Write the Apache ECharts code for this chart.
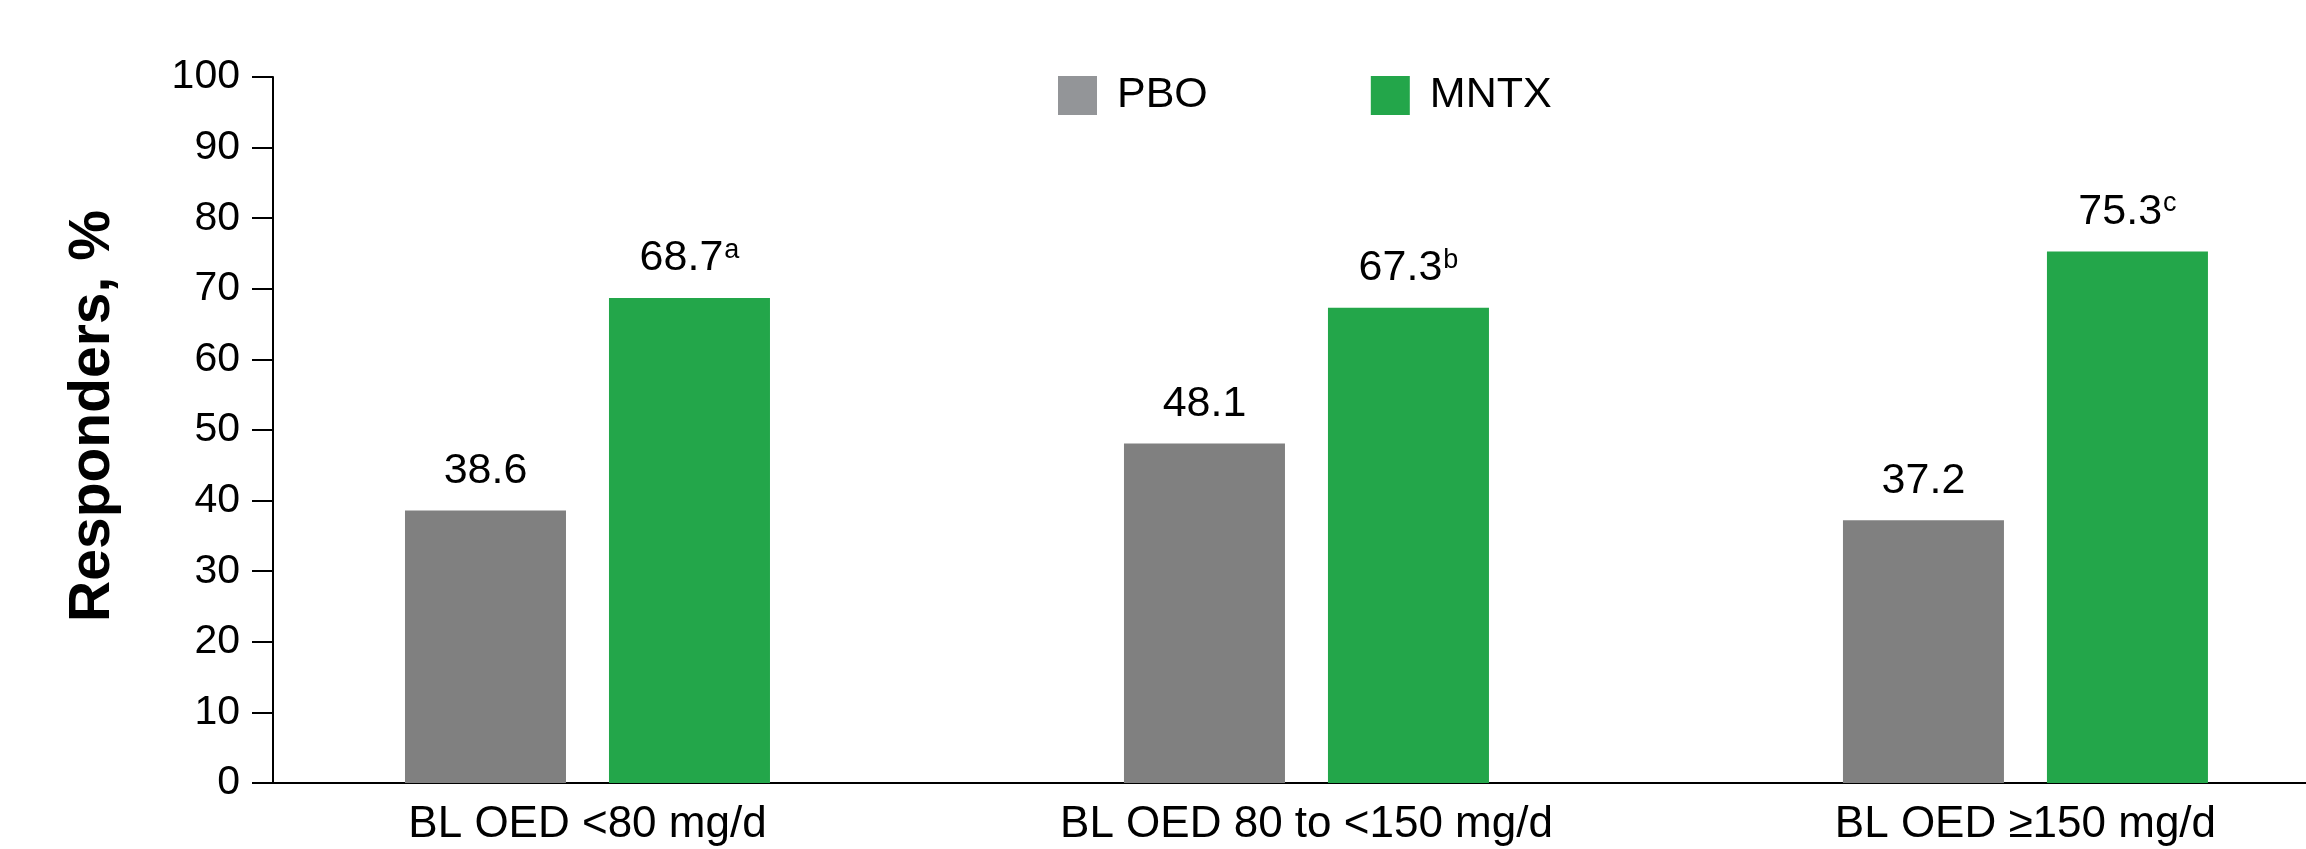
<!DOCTYPE html>
<html>
<head>
<meta charset="utf-8">
<title>Responders by baseline OED</title>
<script src="https://cdn.jsdelivr.net/npm/echarts@6/dist/echarts.min.js"></script>
<style>
  html, body { margin: 0; padding: 0; background: #ffffff; }
  #chart { width: 2306px; height: 849px; }
</style>
</head>
<body>
<div id="chart"></div>
<script>
// Baseline oral-equivalent-dose subgroups
const categories = ['BL OED <80 mg/d', 'BL OED 80 to <150 mg/d', 'BL OED \u2265150 mg/d'];
// Responder rates (%)
const pboValues = [38.6, 48.1, 37.2];
const mntxValues = [68.7, 67.3, 75.3];
// Footnote markers shown beside the MNTX values
const mntxNotes = ['a', 'b', 'c'];
const seriesNames = ['PBO', 'MNTX'];

const FONT = '"Liberation Sans", Arial, Helvetica, sans-serif';
const BLACK = '#000000';
const GRAY = '#808080';
const GRAY_KEY = '#939598';
const GREEN = '#23A64A';

const chart = echarts.init(document.getElementById('chart'), null, { renderer: 'canvas' });

const catIndex = categories.map((_, i) => i);

const option = {
  backgroundColor: '#ffffff',
  animation: false,
  textStyle: { fontFamily: FONT, color: BLACK },
  legend: {
    left: 1053,
    top: 69,
    itemWidth: 39,
    itemHeight: 39,
    itemGap: 163,
    icon: 'rect',
    selectedMode: false,
    textStyle: { fontFamily: FONT, fontSize: 43, color: BLACK, padding: [0, 0, 0, 15] },
    data: [
      { name: seriesNames[0], itemStyle: { color: GRAY_KEY } },
      { name: seriesNames[1], itemStyle: { color: GREEN } }
    ]
  },
  grid: { left: 273, right: 0, top: 77, bottom: 66, containLabel: false },
  xAxis: {
    type: 'value',
    min: -0.4374,
    max: 2.3902,
    splitLine: { show: false },
    axisTick: { show: false },
    axisLine: { show: true, onZero: false, lineStyle: { color: BLACK, width: 2 } },
    axisLabel: {
      customValues: catIndex,
      formatter: v => categories[Math.round(v)] || '',
      fontFamily: FONT,
      fontSize: 44,
      color: BLACK,
      margin: 20,
      interval: 0,
      hideOverlap: false,
      showMinLabel: true,
      showMaxLabel: true
    }
  },
  yAxis: {
    type: 'value',
    min: 0,
    max: 100,
    interval: 10,
    name: 'Responders, %',
    nameLocation: 'middle',
    nameGap: 151,
    nameTextStyle: { fontFamily: FONT, fontSize: 57, fontWeight: 'bold', color: BLACK, padding: [0, 0, 0, 28] },
    splitLine: { show: false },
    axisLine: { show: true, onZero: false, lineStyle: { color: BLACK, width: 2 } },
    axisTick: { show: true, inside: false, length: 21, lineStyle: { color: BLACK, width: 2 } },
    axisLabel: { fontFamily: FONT, fontSize: 41, color: BLACK, margin: 33 }
  },
  series: [
    {
      name: seriesNames[0],
      type: 'bar',
      barWidth: 161,
      barGap: '26.7%',
      itemStyle: { color: GRAY },
      data: pboValues.map((v, i) => [i, v]),
      label: {
        show: true,
        position: 'top',
        distance: 18,
        fontFamily: FONT,
        fontSize: 43,
        lineHeight: 43,
        color: BLACK,
        formatter: p => p.value[1].toFixed(1)
      }
    },
    {
      name: seriesNames[1],
      type: 'bar',
      barWidth: 161,
      barGap: '26.7%',
      itemStyle: { color: GREEN },
      data: mntxValues.map((v, i) => [i, v]),
      label: {
        show: true,
        position: 'top',
        distance: 18,
        color: BLACK,
        formatter: p => '{v|' + p.value[1].toFixed(1) + '}{s|' + mntxNotes[p.dataIndex] + '}',
        rich: {
          v: { fontFamily: FONT, fontSize: 43, lineHeight: 43, color: BLACK },
          s: { fontFamily: FONT, fontSize: 27, lineHeight: 27, color: BLACK, verticalAlign: 'top', padding: [0, 0, 0, 1] }
        }
      }
    }
  ]
};

chart.setOption(option);
</script>
</body>
</html>
